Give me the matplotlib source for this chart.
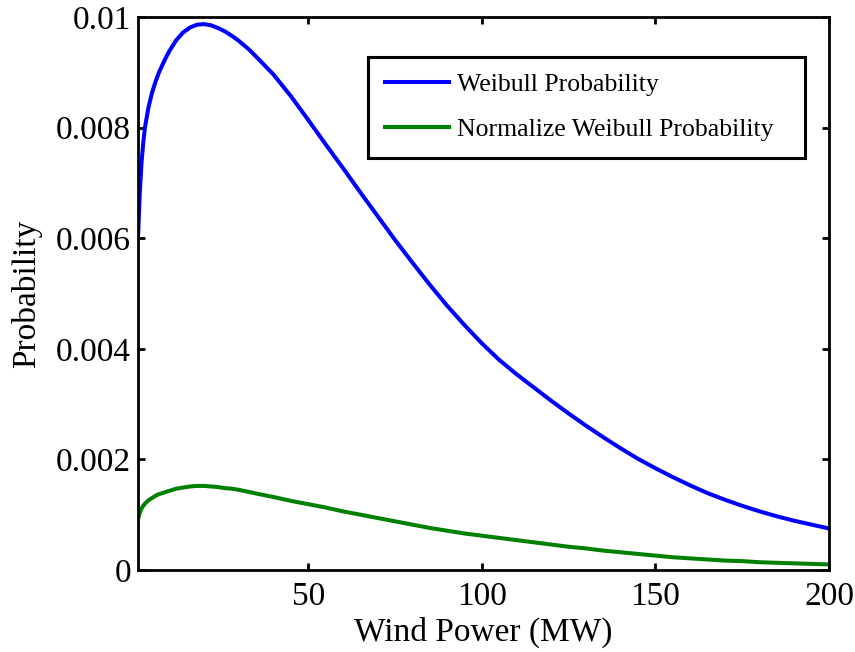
import matplotlib.pyplot as plt
from matplotlib.ticker import FuncFormatter

plt.rcParams['font.family'] = ['Liberation Serif', 'DejaVu Serif']

# wind power samples (MW)
power = [1, 1.5, 2, 2.5, 3, 4, 5, 6, 7, 8, 9, 10, 12, 14, 16, 18, 20, 22, 24,
         26, 28, 30, 33, 36, 40, 45, 50, 55, 60, 65, 70, 75, 80, 85, 90, 95,
         100, 105, 110, 115, 120, 125, 130, 135, 140, 145, 150, 155, 160, 165,
         170, 175, 180, 185, 190, 195, 200]

weibull_prob = [0.0060, 0.0068, 0.00735, 0.00772, 0.00800, 0.00836, 0.00862,
                0.00882, 0.00899, 0.00913, 0.00926, 0.00938, 0.00958, 0.00972,
                0.00981, 0.00986, 0.00987, 0.00985, 0.00980, 0.00974, 0.00966,
                0.00957, 0.00941, 0.00922, 0.00896, 0.00857, 0.00814, 0.00770,
                0.00727, 0.00683, 0.00640, 0.00597, 0.00556, 0.00516, 0.00478,
                0.00443, 0.00410, 0.00380, 0.00354, 0.00330, 0.00306, 0.00283,
                0.00261, 0.00240, 0.00220, 0.00201, 0.00184, 0.00168, 0.00153,
                0.00139, 0.00127, 0.00116, 0.00106, 0.00097, 0.00089, 0.00082,
                0.00075]

norm_weibull_prob = [0.00092, 0.00103, 0.00111, 0.00116, 0.00120, 0.00126,
                     0.00130, 0.00134, 0.00137, 0.00139, 0.00141, 0.00143,
                     0.00147, 0.00149, 0.00151, 0.00152, 0.00152, 0.00151,
                     0.00150, 0.00148, 0.00147, 0.00145, 0.00141, 0.00137,
                     0.00132, 0.00125, 0.00119, 0.00113, 0.00106, 0.00100,
                     0.00094, 0.00088, 0.00082, 0.00076, 0.00071, 0.00066,
                     0.00062, 0.00058, 0.00054, 0.00050, 0.00046, 0.00042,
                     0.00039, 0.00035, 0.00032, 0.00029, 0.00026, 0.00023,
                     0.00021, 0.00019, 0.00017, 0.00016, 0.00014, 0.00013,
                     0.00012, 0.00011, 0.00010]

x_ticks = [50, 100, 150, 200]
y_ticks = [0, 0.002, 0.004, 0.006, 0.008, 0.01]

fig = plt.figure(figsize=(8.55, 6.52), dpi=100)
ax = fig.add_axes([0.1614, 0.1258, 0.8082, 0.8482])

ax.plot(power, weibull_prob, color='#0000FF', lw=2.9,
        label='Weibull Probability')
ax.plot(power, norm_weibull_prob, color='#008000', lw=2.9,
        label='Normalize Weibull Probability')

ax.set_xlim(1, 200)
ax.set_ylim(0, 0.01)
ax.set_xticks(x_ticks)
ax.set_yticks(y_ticks)
ax.yaxis.set_major_formatter(FuncFormatter(lambda v, p: '{:g}'.format(v)))

for s in ax.spines.values():
    s.set_linewidth(2)
ax.tick_params(direction='in', length=5, width=2, labelsize=24,
               top=True, right=True)
ax.tick_params(axis='x', pad=8)
ax.tick_params(axis='y', pad=5)

ax.set_xlabel('Wind Power (MW)', fontsize=24, labelpad=4)
ax.set_ylabel('Probability', fontsize=24, labelpad=10)

# legend box spans a fixed region, text left-aligned inside it
leg = ax.legend(loc='upper left', bbox_to_anchor=(0.333, 0.756, 0.632, 0.172),
                mode='expand', borderaxespad=0, fontsize=18.5,
                handlelength=2.5, handletextpad=0.3, borderpad=0.65,
                labelspacing=0.85, fancybox=False, framealpha=1)
leg.get_frame().set_edgecolor('black')
leg.get_frame().set_linewidth(2.2)

fig.savefig('out.png', dpi=100, facecolor='white')
